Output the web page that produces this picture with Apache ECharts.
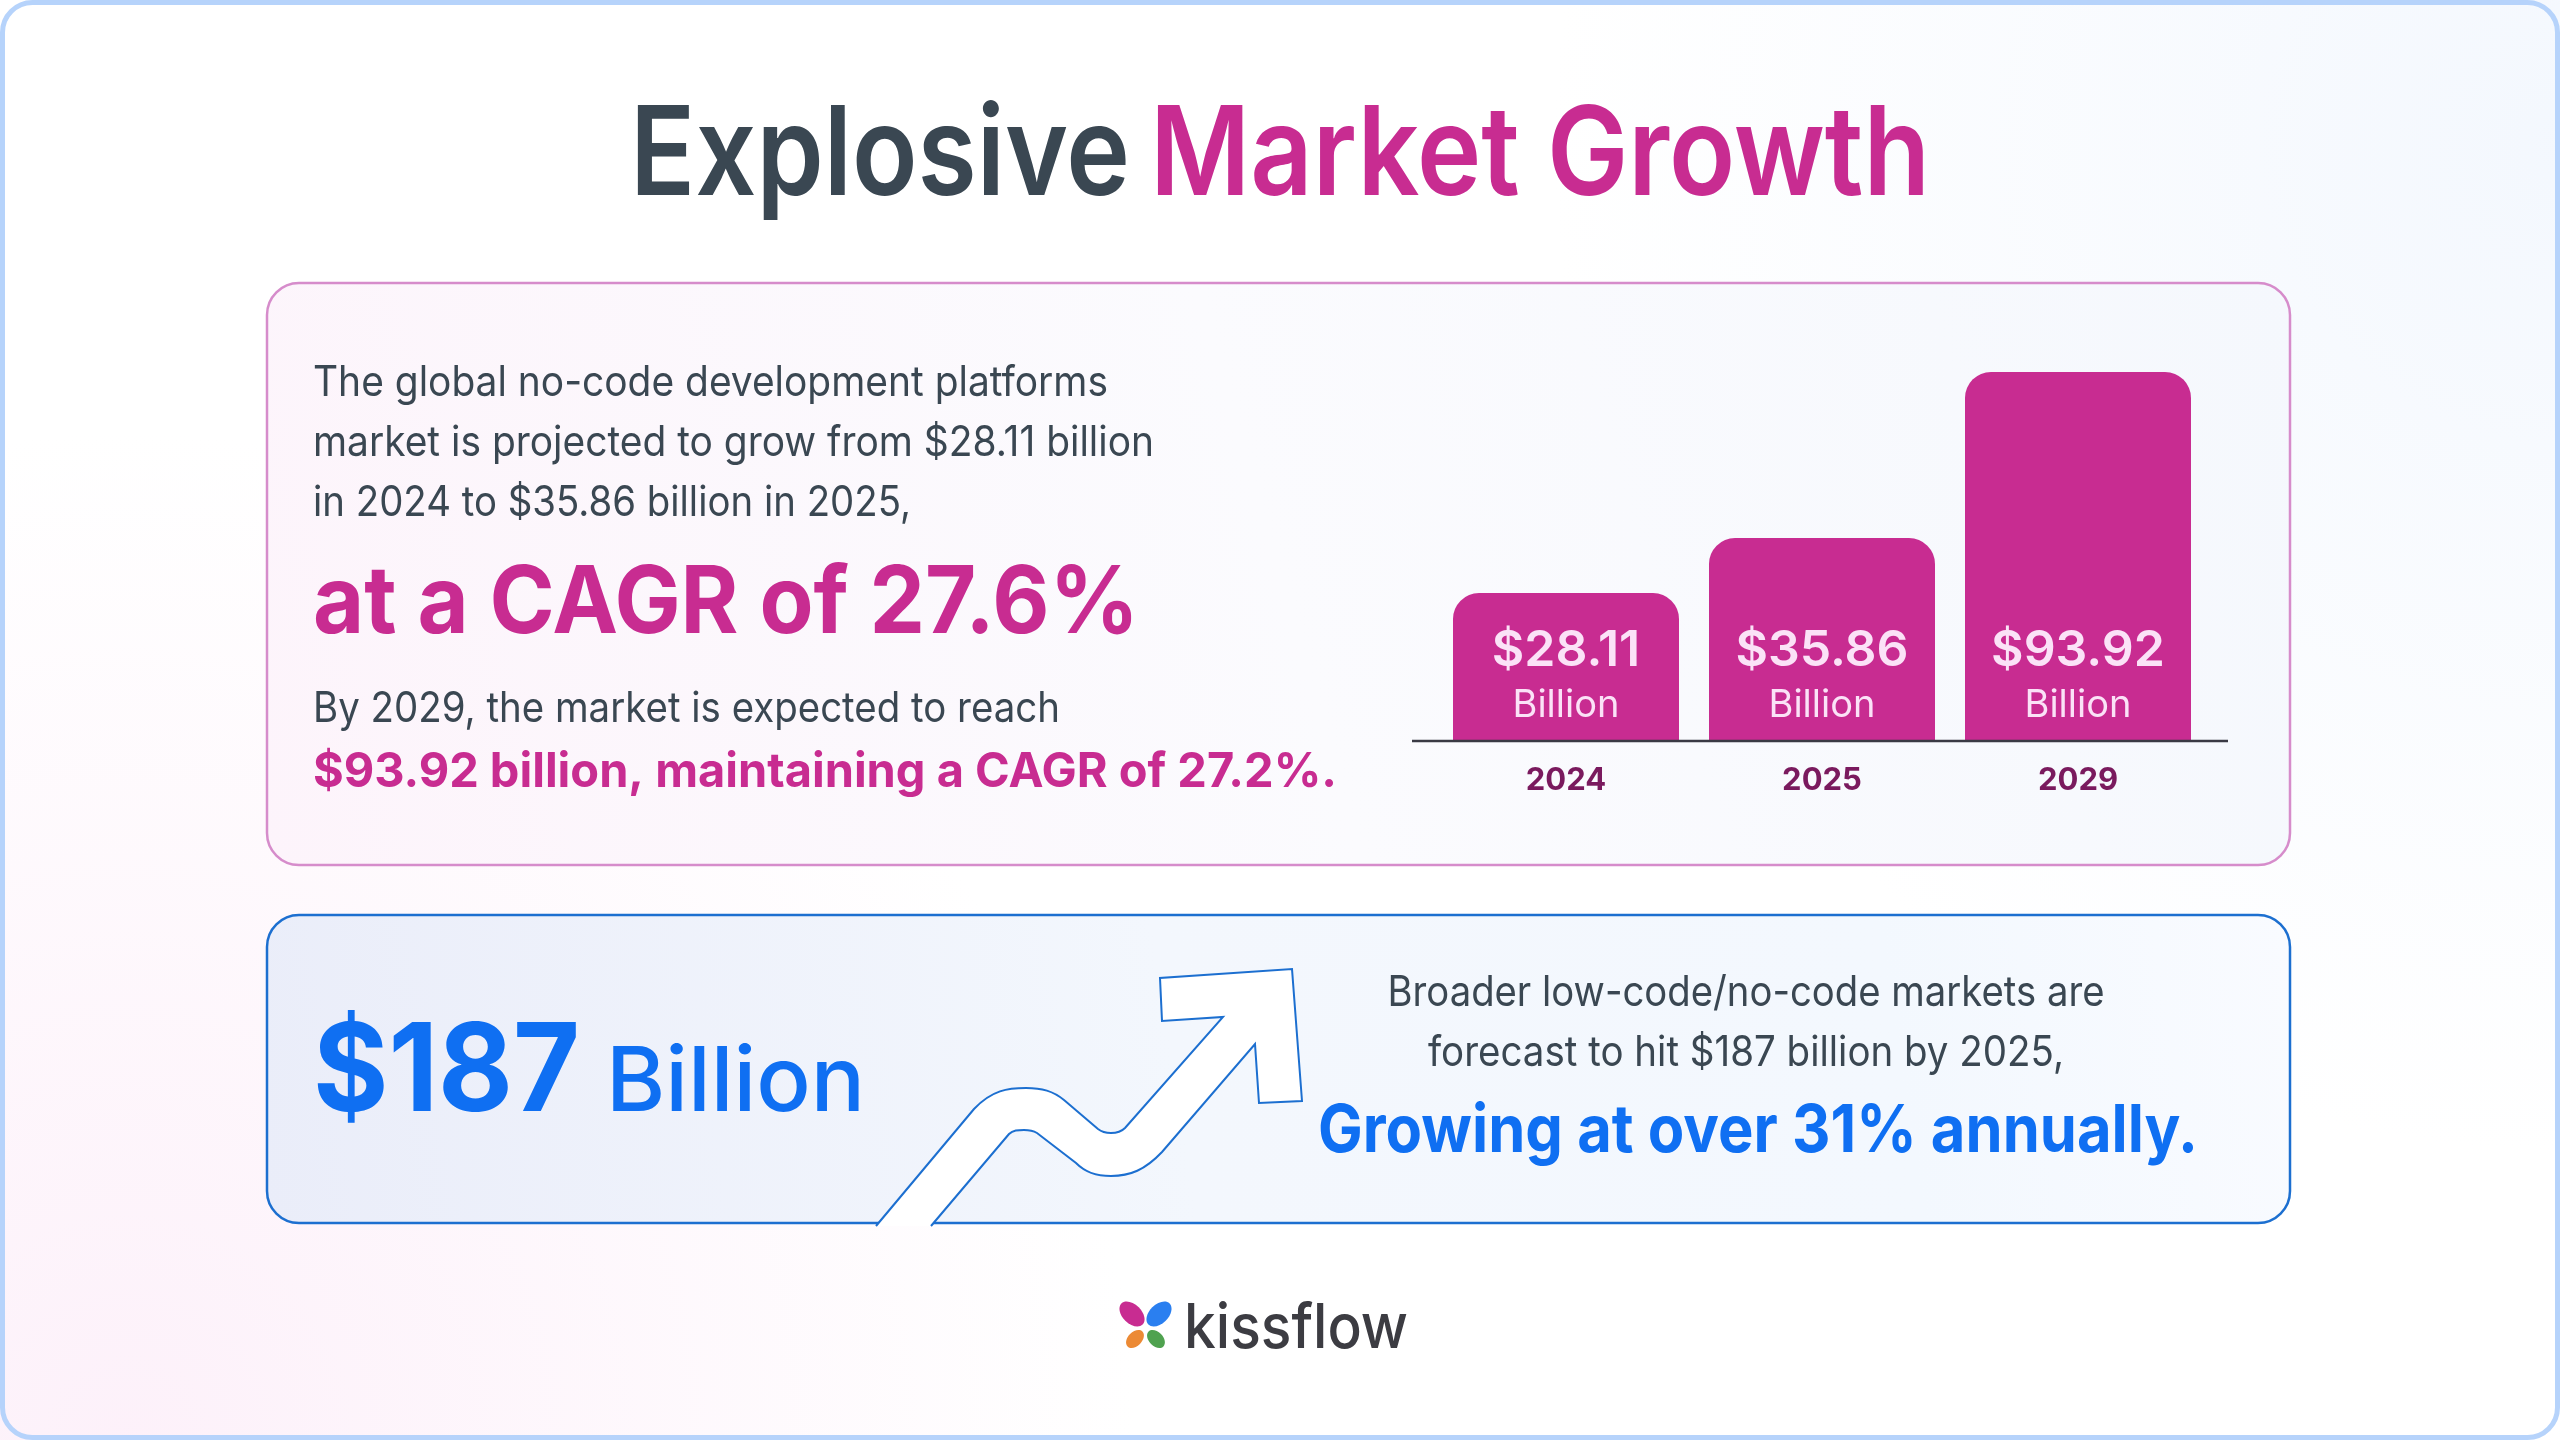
<!DOCTYPE html>
<html>
<head>
<meta charset="utf-8">
<title>Explosive Market Growth</title>
<script src="https://cdn.jsdelivr.net/npm/echarts@6/dist/echarts.min.js"></script>
<style>
    html, body { margin: 0; padding: 0; background: #fff; }
    #chart { width: 2560px; height: 1440px; }
</style>
</head>
<body>
<div id="chart"></div>
<script>
const FONT = 'Inter'
const PINK = '#c82c91'
const BLUE = '#0f6ff2'
const SLATE = '#3a4752'

const years = ['2024', '2025', '2029']
const barLabels = ['$28.11', '$35.86', '$93.92']
const barUnit = 'Billion'
// the reference bars are not drawn to scale with their labels,
// so these are the drawn heights as % of the tallest bar
const barHeights = [40.1, 55, 100]

const introLines = [
    'The global no-code development platforms',
    'market is projected to grow from $28.11 billion',
    'in 2024 to $35.86 billion in 2025,'
]
const cagrHeadline = 'at a CAGR of 27.6%'
const outlookLine = 'By 2029, the market is expected to reach'
const outlookBold = '$93.92 billion, maintaining a CAGR of 27.2%.'
const broaderLines = [
    'Broader low-code/no-code markets are',
    'forecast to hit $187 billion by 2025,'
]
const growingLine = 'Growing at over 31% annually.'

const measureCtx = document.createElement('canvas').getContext('2d')

// text squeezed to a target width, the reference font runs tighter than the installed ones
function label(text, x, baseline, size, weight, fill, width, align) {
    measureCtx.font = `${weight} ${size}px ${FONT}`
    const scaleX = width ? width / measureCtx.measureText(text).width : 1
    const y = baseline - size * 0.29
    return {
        type: 'text',
        x: x,
        y: y,
        originX: 0,
        originY: 0,
        scaleX: scaleX,
        style: {
            text: text,
            x: 0,
            y: 0,
            fill: fill,
            font: `${weight} ${size}px ${FONT}`,
            align: align || 'left',
            verticalAlign: 'middle'
        }
    }
}

function panel(x, y, w, h, stroke, stops) {
    return {
        type: 'rect',
        shape: { x: x, y: y, width: w, height: h, r: 32 },
        style: {
            fill: new echarts.graphic.LinearGradient(0, 1, 1, 0, stops),
            stroke: stroke,
            lineWidth: 2.5
        }
    }
}

function glow(cx, cy, r, color, transparent) {
    return {
        type: 'rect',
        shape: { x: 0, y: 0, width: 2560, height: 1440 },
        style: {
            fill: new echarts.graphic.RadialGradient(cx, cy, r, [
                { offset: 0, color: color },
                { offset: 1, color: transparent }
            ])
        }
    }
}

function petal(cx, cy, rx, ry, angle, color) {
    return {
        type: 'ellipse',
        x: cx,
        y: cy,
        rotation: angle * Math.PI / 180,
        shape: { cx: 0, cy: 0, rx: rx, ry: ry },
        style: { fill: color }
    }
}

const arrowPath = 'M 876 1226 L 974 1109 C 992 1090 1008 1088 1026 1088 C 1042 1088 1053 1091 1064 1100 '
    + 'L 1098 1129 C 1103 1133 1107 1133 1111 1133 C 1117 1133 1121 1132 1125 1128 L 1223 1017 '
    + 'L 1162 1021 L 1160 978 L 1292 969 L 1302 1101 L 1259 1103 L 1255 1044 L 1162 1152 '
    + 'C 1145 1170 1130 1176 1111 1176 C 1095 1176 1085 1172 1076 1163 L 1037 1133 '
    + 'C 1032 1130 1028 1130 1024 1130 C 1018 1130 1013 1130 1009 1134 L 931 1226'

echarts.graphic.registerShape('growthArrow', echarts.graphic.extendPath(arrowPath, {}))

const graphics = [
    { type: 'rect', shape: { x: 0, y: 0, width: 2560, height: 1440 }, style: { fill: '#ffffff' } },
    glow(0.05, 1, 0.7, 'rgba(252,236,248,0.75)', 'rgba(252,236,248,0)'),
    glow(1, 0.1, 0.7, 'rgba(236,243,253,0.6)', 'rgba(236,243,253,0)'),
    {
        type: 'rect',
        shape: { x: 2.5, y: 2.5, width: 2555, height: 1435, r: 30 },
        style: { fill: 'transparent', stroke: '#b6d3fb', lineWidth: 5 }
    },

    panel(267, 283, 2023, 582, '#d68ccb', [
        { offset: 0, color: '#fdf4fb' },
        { offset: 0.5, color: '#fbfbfe' },
        { offset: 1, color: '#f5f8fd' }
    ]),
    panel(267, 915, 2023, 308, '#1c6fd0', [
        { offset: 0, color: '#eaedf9' },
        { offset: 0.45, color: '#f3f7fd' },
        { offset: 0.8, color: '#f3f8fe' },
        { offset: 1, color: '#f9fbff' }
    ]),
    {
        type: 'growthArrow',
        style: { fill: '#ffffff', stroke: '#1c6fd0', lineWidth: 2 }
    },
    // baseline under the bars, it overhangs the category bands on both sides
    {
        type: 'line',
        z: 5,
        shape: { x1: 1412, y1: 741, x2: 2228, y2: 741 },
        style: { stroke: '#3a3a44', lineWidth: 2.5 }
    },

    label('Explosive', 630, 194, 124, 600, SLATE, 500),
    label('Market Growth', 1150, 194, 124, 600, PINK, 780),

    label(introLines[0], 313, 396, 42, 400, SLATE, 795),
    label(introLines[1], 313, 456, 42, 400, SLATE, 841),
    label(introLines[2], 313, 516, 42, 400, SLATE, 598),
    label(cagrHeadline, 313, 632, 94, 700, PINK, 826),
    label(outlookLine, 313, 722, 42, 400, SLATE, 747),
    label(outlookBold, 313, 786, 48, 700, PINK, 1024),

    label('$187', 313, 1110, 122, 700, BLUE, 267),
    label(barUnit, 606, 1110, 90, 500, BLUE, 259),
    label(broaderLines[0], 1746, 1006, 42, 400, SLATE, 717, 'center'),
    label(broaderLines[1], 1746, 1066, 42, 400, SLATE, 636, 'center'),
    label(growingLine, 1758, 1151, 66, 700, BLUE, 880, 'center'),

    petal(1132, 1314, 15, 9.5, -45, '#c82c91'),
    petal(1159, 1314, 15, 9.5, 45, '#2a7ff0'),
    petal(1135, 1339, 10.5, 7, 45, '#ec8a35'),
    petal(1156, 1339, 10.5, 7, -45, '#4fa24f'),
    label('kissflow', 1184, 1347, 62, 500, '#3c3c42', 224)
]

const chart = echarts.init(document.getElementById('chart'))
chart.setOption({
    animation: false,
    graphic: { elements: graphics },
    grid: { left: 1438, width: 768, top: 372, height: 369 },
    xAxis: {
        type: 'category',
        data: years,
        axisLine: { show: false },
        axisTick: { show: false },
        axisLabel: {
            margin: 24,
            fontFamily: FONT,
            fontSize: 31,
            fontWeight: 700,
            color: '#7a1a5e'
        }
    },
    yAxis: {
        type: 'value',
        min: 0,
        max: 100,
        show: false,
        splitLine: { show: false }
    },
    series: [
        {
            type: 'bar',
            data: barHeights,
            barWidth: 226,
            z: 4,
            itemStyle: { color: PINK, borderRadius: [26, 26, 0, 0] },
            label: {
                show: true,
                position: 'insideBottom',
                distance: 10,
                formatter: (params) => `{v|${barLabels[params.dataIndex]}}\n{u|${barUnit}}`,
                rich: {
                    v: { fontFamily: FONT, fontSize: 50, fontWeight: 600, color: '#fbe2f7', lineHeight: 60 },
                    u: { fontFamily: FONT, fontSize: 38, fontWeight: 400, color: '#fbe2f7', lineHeight: 50 }
                }
            }
        }
    ]
})
</script>
</body>
</html>
